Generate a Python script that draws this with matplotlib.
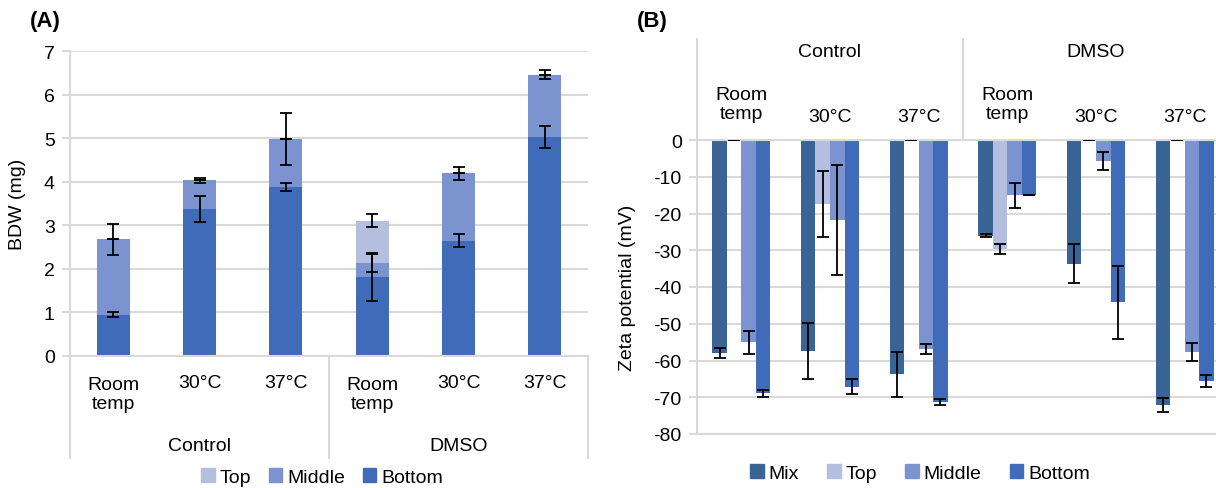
import matplotlib.pyplot as plt
import numpy as np
from matplotlib.patches import Patch
import matplotlib.transforms as mtransforms

plt.rcParams['font.family'] = ['Liberation Sans', 'DejaVu Sans']
plt.rcParams['font.size'] = 14
plt.rcParams['axes.unicode_minus'] = False

groups = ['Control', 'DMSO']
temps = ['Room\ntemp', '30°C', '37°C']

# (A) biofilm dry weight per layer, stacked
bdw_bottom = [0.94, 3.37, 3.88, 1.81, 2.64, 5.03]
bdw_middle = [1.74, 0.66, 1.11, 0.32, 1.55, 1.43]
bdw_top = [0, 0, 0, 0.97, 0, 0]
bdw_bottom_err = [0.06, 0.30, 0.10, 0.55, 0.15, 0.25]
bdw_middle_err = [0.36, 0.05, 0.60, 0.21, 0.15, 0.10]
bdw_top_err = [0, 0, 0, 0.15, 0, 0]

# (B) zeta potential per layer
zeta_mix = [-58.0, -57.3, -63.8, -26.0, -33.7, -72.1]
zeta_top = [0, -17.5, 0, -29.6, 0, 0]
zeta_middle = [-55.1, -21.8, -56.9, -15.1, -5.7, -57.6]
zeta_bottom = [-68.9, -67.1, -71.4, -14.9, -44.2, -65.5]
zeta_mix_err = [1.3, 7.6, 6.2, 0.5, 5.3, 1.8]
zeta_top_err = [0, 9.0, 0, 1.3, 0, 0]
zeta_middle_err = [3.0, 14.9, 1.3, 3.5, 2.4, 2.4]
zeta_bottom_err = [1.0, 2.1, 0.8, 0, 9.9, 1.6]

c_mix = '#3b6496'
c_top = '#b4bfe0'
c_middle = '#7b93cf'
c_bottom = '#3f6bb8'
grid_c = '#d9d9d9'

W, H = 1216, 489
fig = plt.figure(figsize=(W / 100, H / 100), dpi=100)

def px(x0, y0, x1, y1):
    # pixel box -> figure fraction rect
    return [x0 / W, 1 - y1 / H, (x1 - x0) / W, (y1 - y0) / H]

err_kw = dict(fmt='none', ecolor='black', elinewidth=1.3, capsize=4.3, capthick=1.3, zorder=4)

# ---------- panel A ----------
axA = fig.add_axes(px(70, 52.3, 588, 356.7))
x = np.arange(6)
bw = 0.386
b1 = np.array(bdw_bottom)
b2 = b1 + np.array(bdw_middle)
b3 = b2 + np.array(bdw_top)
axA.bar(x, bdw_bottom, bw, color=c_bottom, zorder=2)
axA.bar(x, bdw_middle, bw, bottom=b1, color=c_middle, zorder=2)
axA.bar(x, bdw_top, bw, bottom=b2, color=c_top, zorder=2)
axA.errorbar(x, b1, yerr=bdw_bottom_err, **err_kw)
axA.errorbar(x, b2, yerr=bdw_middle_err, **err_kw)
axA.errorbar(x, b3, yerr=bdw_top_err, **err_kw)

axA.set_xlim(-0.5, 5.5)
axA.set_ylim(0, 7)
axA.set_yticks(range(8))
axA.set_xticks([])
axA.grid(axis='y', color=grid_c, linewidth=1.5)
axA.set_axisbelow(True)
for s in ['top', 'right']:
    axA.spines[s].set_visible(False)
for s in ['left', 'bottom']:
    axA.spines[s].set_color(grid_c)
    axA.spines[s].set_linewidth(1.5)
axA.tick_params(axis='y', color=grid_c, width=1.5, length=6, pad=5)

trA = mtransforms.blended_transform_factory(axA.transData, axA.transAxes)
for xs in [-0.5, 2.5, 5.5]:
    axA.plot([xs, xs], [0, -0.336], transform=trA, color=grid_c, lw=1.5, clip_on=False)
for i in range(6):
    t = temps[i % 3]
    yy = -0.126 if '\n' in t else -0.0864
    axA.text(i, yy, t, transform=trA, ha='center', va='center', multialignment='center',
             linespacing=1.2)
for g, gname in enumerate(groups):
    axA.text(3 * g + 1, -0.2937, gname, transform=trA, ha='center', va='center')

fig.text(18 / W, 1 - 204 / H, 'BDW (mg)', rotation=90, ha='center', va='center')
fig.text(30 / W, 1 - 22 / H, '(A)', fontweight='bold', fontsize=16, ha='left', va='center')

fig.legend(handles=[Patch(color=c_top, label='Top'), Patch(color=c_middle, label='Middle'),
                    Patch(color=c_bottom, label='Bottom')],
           loc='center', bbox_to_anchor=(322 / W, 1 - 478 / H), ncol=3, frameon=False,
           handlelength=0.7, handleheight=0.7, handletextpad=0.25, columnspacing=0.9,
           borderpad=0)

# ---------- panel B ----------
axB = fig.add_axes(px(697, 141, 1229, 435))
w = 0.164
series = [(zeta_mix, zeta_mix_err, c_mix), (zeta_top, zeta_top_err, c_top),
          (zeta_middle, zeta_middle_err, c_middle), (zeta_bottom, zeta_bottom_err, c_bottom)]
for k, (vals, errs, col) in enumerate(series):
    xk = x + (k - 1.5) * w
    axB.bar(xk, vals, w, color=col, zorder=2)
    axB.errorbar(xk, vals, yerr=errs, **err_kw)

axB.set_xlim(-0.5, 5.5)
axB.set_ylim(-80, 0)
axB.set_yticks(range(-80, 1, 10))
axB.set_xticks([])
axB.grid(axis='y', color=grid_c, linewidth=1.5)
axB.set_axisbelow(True)
axB.spines['right'].set_visible(False)
for s in ['left', 'top', 'bottom']:
    axB.spines[s].set_color(grid_c)
    axB.spines[s].set_linewidth(1.5)
axB.tick_params(axis='y', color=grid_c, width=1.5, length=6, pad=5)

trB = mtransforms.blended_transform_factory(axB.transData, axB.transAxes)
for xs in [-0.5, 2.5, 5.5]:
    axB.plot([xs, xs], [1, 1.3435], transform=trB, color=grid_c, lw=1.5, clip_on=False)
for i in range(6):
    t = temps[i % 3]
    yy = 1.1225 if '\n' in t else 1.0816
    axB.text(i, yy, t, transform=trB, ha='center', va='center', multialignment='center',
             linespacing=1.2)
for g, gname in enumerate(groups):
    axB.text(3 * g + 1, 1.3027, gname, transform=trB, ha='center', va='center')

fig.text(627 / W, 1 - 288 / H, 'Zeta potential (mV)', rotation=90, ha='center', va='center')
fig.text(637 / W, 1 - 22 / H, '(B)', fontweight='bold', fontsize=16, ha='left', va='center')

fig.legend(handles=[Patch(color=c_mix, label='Mix'), Patch(color=c_top, label='Top'),
                    Patch(color=c_middle, label='Middle'), Patch(color=c_bottom, label='Bottom')],
           loc='center', bbox_to_anchor=(920 / W, 1 - 474 / H), ncol=4, frameon=False,
           handlelength=0.7, handleheight=0.7, handletextpad=0.25, columnspacing=1.45,
           borderpad=0)

fig.savefig('out.png', dpi=100)
